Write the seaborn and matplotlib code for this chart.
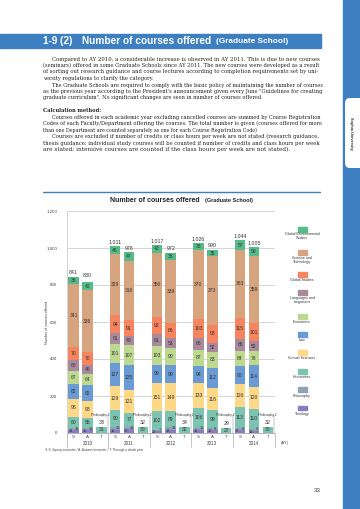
import matplotlib
matplotlib.use("Agg")
import matplotlib.pyplot as plt
import matplotlib.transforms as mtransforms
from matplotlib.lines import Line2D
from matplotlib.patches import Rectangle, FancyBboxPatch
import seaborn as sns
import pandas as pd
import numpy as np

# ---- data ----
slots = ["2010 S", "2010 A", "2010 T", "2011 S", "2011 A", "2011 T",
         "2012 S", "2012 A", "2012 T", "2013 S", "2013 A", "2013 T",
         "2014 S", "2014 A", "2014 T"]
slot_labels = ["S", "A", "T"] * 5
years = ["2010", "2011", "2012", "2013", "2014"]

theology = [14, 15, 0, 18, 20, 0, 10, 18, 0, 18, 16, 0, 17, 12, 0]
philosophy = [13, 12, 2, 16, 13, 2, 7, 13, 2, 11, 9, 2, 8, 9, 2]
humanities = [60, 55, 31, 90, 77, 30, 102, 89, 32, 106, 99, 27, 113, 110, 30]
human_sciences = [98, 93, 0, 129, 121, 0, 151, 149, 0, 133, 118, 0, 126, 120, 0]
law = [82, 82, 0, 127, 135, 0, 99, 99, 0, 94, 112, 0, 96, 114, 0]
economics = [67, 64, 0, 101, 107, 0, 103, 90, 0, 87, 83, 0, 84, 78, 0]
languages = [60, 46, 0, 61, 49, 0, 61, 53, 0, 66, 52, 0, 65, 52, 0]
global_studies = [70, 70, 0, 94, 91, 0, 92, 86, 0, 103, 93, 0, 115, 101, 0]
sci_tech = [341, 336, 0, 329, 316, 0, 350, 339, 0, 370, 373, 0, 363, 359, 0]
global_env = [36, 42, 0, 46, 47, 0, 42, 36, 0, 38, 35, 0, 57, 50, 0]
totals = [841, 830, 33, 1011, 976, 32, 1017, 972, 34, 1026, 990, 29, 1044, 1005, 32]

# stacking order, bottom -> top
layers = [
    ("Theology", theology, "#8b7bc6"),
    ("Philosophy", philosophy, "#8fa3b5"),
    ("Humanities", humanities, "#7cc4b1"),
    ("Human Sciences", human_sciences, "#fdd887"),
    ("Law", law, "#6b9bd5"),
    ("Economics", economics, "#bcd98f"),
    ("Languages and\nLinguistics", languages, "#a98a9c"),
    ("Global Studies", global_studies, "#f5845f"),
    ("Science and\nTechnology", sci_tech, "#d6a57f"),
    ("Global Environmental\nStudies", global_env, "#55bb88"),
]

BLUE = "#3d7fc1"
TXT = "#333333"
W, H = 360, 509
SERIF = ["DejaVu Serif", "Liberation Serif"]

sns.set_theme(style="white")
plt.rcParams["font.family"] = ["Liberation Sans", "DejaVu Sans"]

fig = plt.figure(figsize=(3.6, 5.09), dpi=100)
renderer = fig.canvas.get_renderer()


def fx(x):
    return x / W


def fy(y):
    return 1 - y / H


def text_width(s, **kw):
    t = fig.text(0, 0, s, **kw)
    w = t.get_window_extent(renderer).width
    t.remove()
    return w


def fit_text(x, y, s, width, **kw):
    # pick the font size that makes s span `width` pixels
    size = 5.0 * width / text_width(s, fontsize=5.0, **kw)
    return fig.text(fx(x), fy(y), s, fontsize=size, **kw)


# ---- page decoration ----
fig.add_artist(Rectangle((fx(343), 0), fx(17), 1, color=BLUE, transform=fig.transFigure))
fig.add_artist(FancyBboxPatch((fx(345), fy(168)), fx(20), (168 - 98) / H,
                              boxstyle="round,pad=0,rounding_size=0.012",
                              fc="white", ec="none", transform=fig.transFigure))
fig.text(fx(351), fy(133), "Sophia University", rotation=-90, fontsize=2.8,
         fontweight="bold", color=TXT, ha="center", va="center")

fig.add_artist(Rectangle((0, fy(47.7)), fx(321), 13.4 / H, color=BLUE,
                         transform=fig.transFigure))
fit_text(43, 41.2, "1-9 (2)", 30, color="white", fontweight="bold", va="center")
fit_text(82, 41.0, "Number of courses offered", 131, color="white",
         fontweight="bold", va="center")
fit_text(216, 41.5, "(Graduate School)", 72, color="white", fontweight="bold",
         va="center")

# (x, y, text, right end of the line in the reference)
body = [
    (52, 59.3, "Compared to AY 2010, a considerable increase is observed in AY 2011. This is due to new courses", 321),
    (43, 65.7, "(seminars) offered in some Graduate Schools since AY 2011. The new courses were developed as a result", 321),
    (43, 72.0, "of sorting out research guidance and course lectures according to completion requirements set by uni-", 321),
    (43, 78.7, "versity regulations to clarify the category.", 152),
    (52, 85.0, "The Graduate Schools are required to comply with the basic policy of maintaining the number of courses", 321),
    (43, 91.3, "as the previous year according to the President's announcement given every June \"Guidelines for creating", 321),
    (43, 98.0, "graduate curriculum\". No significant changes are seen in number of courses offered.", 263),
    (52, 117.3, "Courses offered in each academic year excluding cancelled courses are summed by Course Registration", 321),
    (43, 123.3, "Codes of each Faculty/Department offering the courses. The total number is given (courses offered for more", 321),
    (43, 130.0, "than one Department are counted separately as one for each Course Registration Code)", 260),
    (52, 136.7, "Courses are excluded if number of credits or class hours per week are not stated (research guidance,", 321),
    (43, 143.0, "thesis guidance; individual study courses will be counted if number of credits and class hours per week", 321),
    (43, 149.3, "are stated; intensive courses are counted if the class hours per week are not stated).", 293),
]
sizes = []
for x, y, line, end in body:
    t = fit_text(x, y, line, end - x, color="#222222", va="center", family=SERIF)
    sizes.append(t.get_fontsize())
fig.text(fx(43), fy(110.3), "Calculation method:", fontweight="bold",
         fontsize=float(np.median(sizes)), color="#222222", va="center",
         family=SERIF)

# chart title block
fig.add_artist(Line2D([fx(43), fx(320)], [fy(192.3), fy(192.3)], color=BLUE,
                      lw=1.0, transform=fig.transFigure))
fit_text(110, 200.7, "Number of courses offered", 90, fontweight="bold",
         color="#222222", va="center")
fit_text(205, 200.9, "(Graduate School)", 48, fontweight="bold",
         color="#222222", va="center")

# ---- chart ----
ax = fig.add_axes([fx(67), fy(433), 208 / W, 222 / H])
df = pd.DataFrame({"slot": slots})
cum = np.zeros(len(slots))
cums = []
for name, vals, color in layers:
    cum = cum + np.array(vals)
    cums.append(cum.copy())

# paint the tallest cumulative first, each lower layer on top of it
for (name, vals, color), c in reversed(list(zip(layers, cums))):
    df["value"] = c
    sns.barplot(data=df, x="slot", y="value", order=slots, color=color,
                saturation=1, width=0.76, errorbar=None, linewidth=0, ax=ax)

# segment labels
bottom = np.zeros(len(slots))
for li, (name, vals, color) in enumerate(layers):
    for j, v in enumerate(vals):
        if v <= 0:
            continue
        if li >= 2:
            ax.text(j, bottom[j] + v / 2, str(v), ha="center", va="center",
                    fontsize=3.6, color=TXT)
    bottom = bottom + np.array(vals)

for j in range(len(slots)):
    if slot_labels[j] == "T":
        ax.text(j - 0.05, 97, "Philosophy 2", ha="center", va="center",
                fontsize=2.3, color=TXT)
        ax.plot([j + 0.48, j + 0.48], [2, 100], color="#888888", lw=0.35)
        ax.plot([j + 0.40, j + 0.48], [100, 100], color="#888888", lw=0.35)
    else:
        ax.text(j - 0.2, theology[j] / 2 + 2, str(theology[j]), ha="center",
                va="center", fontsize=2.8, color=TXT)
        ax.text(j + 0.22, theology[j] + philosophy[j] / 2 + 3, str(philosophy[j]),
                ha="center", va="center", fontsize=2.8, color=TXT)
    ax.text(j, totals[j] + 24, f"{totals[j]:,}", ha="center", va="center",
            fontsize=3.8, color=TXT)

ax.set_xlim(-0.47, 14.52)
ax.set_ylim(0, 1200)
ax.set_yticks(range(0, 1201, 200))
ax.set_yticklabels([f"{v:,}" for v in range(0, 1201, 200)])
ax.set_xticks(range(len(slots)))
ax.set_xticklabels(slot_labels)
ax.set_xlabel("")
ax.set_ylabel("")
ax.tick_params(axis="y", labelsize=3.2, labelcolor="#444444", length=2,
               width=0.4, color="#bbbbbb", pad=5)
ax.tick_params(axis="x", labelsize=3.2, labelcolor="#444444", length=0, pad=1.5)
ax.yaxis.grid(True, color="#c4c4c4", lw=0.5)
ax.set_axisbelow(True)
for s in ["top", "right"]:
    ax.spines[s].set_visible(False)
ax.spines["left"].set_color("#cccccc")
ax.spines["left"].set_linewidth(0.6)
ax.spines["bottom"].set_color("#999999")
ax.spines["bottom"].set_linewidth(0.5)

trans = mtransforms.blended_transform_factory(ax.transData, ax.transAxes)
for k, yr in enumerate(years):
    ax.text(3 * k + 1, -0.047, yr, transform=trans, ha="center", va="center",
            fontsize=3.3, color="#444444")
for xs in [-0.47, 2.5, 5.5, 8.5, 11.5, 14.52]:
    ax.plot([xs, xs], [0, -0.065], transform=trans, color="#999999", lw=0.4,
            clip_on=False)
fig.text(fx(281), fy(443), "(AY)", fontsize=3, color="#444444", va="center")

fig.text(fx(47), fy(322), "Number of courses offered", rotation=90,
         fontsize=2.6, color="#444444", ha="center", va="center")
fit_text(45, 449.5,
         "※ S: Spring semester / A: Autumn semester / T: Through a whole year",
         100, color="#444444", va="center")

# ---- legend (box above centered text) ----
legend_pos = {
    "Global Environmental\nStudies": (227, 236),
    "Science and\nTechnology": (250, 260),
    "Global Studies": (272, 280),
    "Languages and\nLinguistics": (290, 300),
    "Economics": (314, 321.7),
    "Law": (332, 340),
    "Human Sciences": (350, 358),
    "Humanities": (369, 377),
    "Philosophy": (387, 395.6),
    "Theology": (405.6, 414),
}
for name, vals, color in layers:
    by, ty = legend_pos[name]
    fig.add_artist(Rectangle((fx(297.5), fy(by + 4.5)), 9 / W, 4.5 / H,
                             color=color, transform=fig.transFigure))
    fig.text(fx(302), fy(ty), name, fontsize=2.6, color=TXT, ha="center",
             va="center", linespacing=1.0)

fig.text(fx(317), fy(491), "33", fontsize=4.5, color="#444444", ha="center",
         va="center")

fig.savefig("out.png", dpi=100)
